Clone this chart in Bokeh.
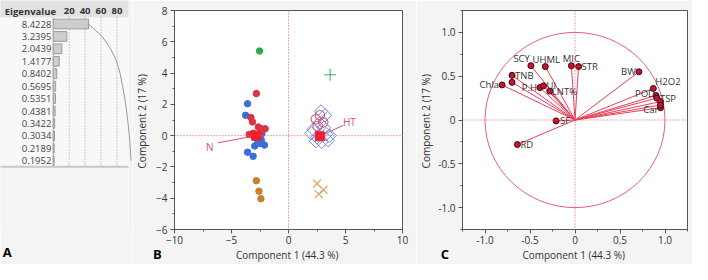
import numpy as np
from bokeh.plotting import figure
from bokeh.layouts import row
from bokeh.models import Range1d, FixedTicker, Span
from bokeh.embed import file_html
from bokeh.resources import INLINE
from bokeh.core.properties import value

FONT = "Open Sans"
BG = "#f4f4f4"
TXT = "#333333"
REF = "#e0506a"
LVL = "annotation"

# ---------------- Panel A data ----------------
eigenvalues = [8.4228, 3.2395, 2.0439, 1.4177, 0.8402, 0.5695,
               0.5351, 0.4381, 0.3422, 0.3034, 0.2189, 0.1952]
eigen_labels = ["8.4228", "3.2395", "2.0439", "1.4177", "0.8402", "0.5695",
                "0.5351", "0.4381", "0.3422", "0.3034", "0.2189", "0.1952"]
n_variables = 19
percent_ticks = [20, 40, 60, 80]
percent_tick_labels = ["20", "40", "60", "80"]

# ---------------- Panel B data (scores) ----------------
n_red_x = [-2.82, -3.30, -3.16, -2.65, -2.05, -3.45, -3.10, -2.60, -3.00, -2.40]
n_red_y = [2.69, 1.16, 0.88, 0.55, 0.44, 0.08, 0.15, 0.05, -0.10, 0.30]
n_blue_x = [-3.59, -3.76, -2.39, -2.33, -2.39, -2.68, -2.11, -2.96, -3.59, -3.10, -2.50]
n_blue_y = [2.04, 1.30, 0.44, 0.14, -0.26, -0.40, -0.60, -0.66, -1.06, -1.32, -0.50]
n_green_x = [-2.54]
n_green_y = [5.41]
n_orange_x = [-2.82, -2.59, -2.42]
n_orange_y = [-2.88, -3.55, -4.03]
ht_diamond_x = [2.20, 2.50, 2.90, 3.30, 3.60, 2.70, 3.20, 2.00, 3.10, 2.40, 3.45, 2.85]
ht_diamond_y = [0.40, -0.10, -0.40, 0.10, 0.00, 0.80, 1.30, 0.15, 0.50, -0.35, -0.30, 1.55]
ht_circle_x = [2.40, 2.55, 3.05, 2.75]
ht_circle_y = [1.05, 0.62, 0.85, 1.30]
ht_plus_x = [3.65]
ht_plus_y = [3.89]
ht_cross_x = [2.50, 2.65, 3.08]
ht_cross_y = [-3.07, -3.73, -3.47]
centroid_names = ["N", "HT"]
centroid_x = [-2.82, 2.75]
centroid_y = [0.00, -0.04]

# ---------------- Panel C data (loadings) ----------------
load_names = ["SCY", "UHML", "MIC", "STR", "BW", "H2O2", "POD", "TSP", "Car",
              "Chla", "TNB", "P.H", "UI", "LNT%", "SF", "RD", "", "", ""]
load_x = [-0.49, -0.33, -0.04, 0.04, 0.71, 0.87, 0.90, 0.91, 0.95,
          -0.81, -0.70, -0.39, -0.35, -0.28, -0.21, -0.64, -0.70, 0.95, 0.95]
load_y = [0.62, 0.61, 0.62, 0.61, 0.55, 0.36, 0.28, 0.25, 0.14,
          0.40, 0.51, 0.37, 0.39, 0.33, -0.01, -0.28, 0.43, 0.21, 0.17]

# label placement (align, x offset px, y offset px)
label_place = {
    "SCY": ("right", -1, -7), "UHML": ("center", 1, -7), "MIC": ("center", 0, -7),
    "STR": ("left", 3, 0), "BW": ("right", -3, 0), "H2O2": ("left", 2, -7),
    "POD": ("right", -1, -2), "TSP": ("left", 3, 0), "Car": ("right", -2, 2),
    "Chla": ("right", -3, 0), "TNB": ("left", 3, 0), "P.H": ("right", -3, 0),
    "UI": ("left", 3, 0), "LNT%": ("left", 2, 0), "SF": ("left", 4, 0),
    "RD": ("left", 3, 0),
}

H = 264
TOP, BOTTOM = 10, 34

# ======================= Panel A =======================
pA = figure(width=132, height=H, x_range=Range1d(-66.26, 94.48),
            y_range=Range1d(17.523, -0.086),
            x_axis_location=None, y_axis_location=None,
            toolbar_location=None, output_backend="svg",
            min_border_left=0, min_border_right=4, min_border_top=TOP, min_border_bottom=BOTTOM,
            outline_line_color=None, background_fill_color=BG, border_fill_color=BG)
pA.grid.visible = False
rows_y = np.arange(1, len(eigenvalues) + 1)
pct = np.array(eigenvalues) / n_variables * 100
cum = np.cumsum(pct)
head_top = -0.887
head_bottom = 0.47
body_bottom = 12.47
rA = []
rA.append(pA.quad(left=-66.26, right=94.48, top=head_top, bottom=head_bottom,
                  fill_color="#e2e2e2", line_color=None))
rA.append(pA.quad(left=-66.26, right=94.48, top=head_bottom, bottom=body_bottom,
                  fill_color="#f8f8f8", line_color=None))
rA.append(pA.segment(x0=percent_ticks, x1=percent_ticks, y0=head_bottom, y1=body_bottom,
                     line_color="#9a9a9a", line_dash="1 2", line_width=1))
rA.append(pA.hbar(y=rows_y, left=0, right=pct, height=0.78,
                  fill_color="#cdcdcd", line_color="#9a9a9a", line_width=1))
rA.append(pA.segment(x0=[0], x1=[0], y0=[head_bottom], y1=[body_bottom], line_color="#a8a8a8"))
rA.append(pA.segment(x0=[-66.26], x1=[94.48], y0=[body_bottom], y1=[body_bottom],
                     line_color="#c8c8c8", line_width=2))
rA.append(pA.line(cum, rows_y, line_color="#999999", line_width=1))
rA.append(pA.text(x=[-2.4] * len(eigen_labels), y=rows_y, text=eigen_labels,
                  text_align="right", text_baseline="middle", text_font=value(FONT),
                  text_font_size="9.5px", text_color="#444444"))
rA.append(pA.text(x=[-61.0], y=[-0.02], text=["Eigenvalue"], text_align="left",
                  text_baseline="middle", text_font=value(FONT), text_font_size="9.5px",
                  text_font_style="bold", text_color=TXT))
rA.append(pA.text(x=percent_ticks, y=[-0.02] * 4, text=percent_tick_labels,
                  text_align="center", text_baseline="middle", text_font=value(FONT),
                  text_font_size="9.5px", text_font_style="bold", text_color=TXT))
rA.append(pA.text(x=[-57.7], y=[19.34], text=["A"], text_align="center",
                  text_baseline="middle", text_font=value(FONT), text_font_size="13px",
                  text_font_style="bold", text_color="black"))
for r in rA:
    r.level = LVL


def style_axes(p, ylab_standoff, ylabel_standoff):
    for ax in (p.xaxis[0], p.yaxis[0]):
        ax.axis_line_color = "#555555"
        ax.major_tick_line_color = "#555555"
        ax.minor_tick_line_color = "#555555"
        ax.major_tick_in = 0
        ax.major_tick_out = 4
        ax.minor_tick_in = 0
        ax.minor_tick_out = 2
        ax.major_label_text_font = FONT
        ax.major_label_text_font_size = "10px"
        ax.major_label_text_color = TXT
        ax.axis_label_text_font = FONT
        ax.axis_label_text_font_size = "10px"
        ax.axis_label_text_font_style = "normal"
        ax.axis_label_text_color = TXT
    p.xaxis[0].major_label_standoff = 2
    p.xaxis[0].axis_label_standoff = 1
    p.yaxis[0].major_label_standoff = ylab_standoff
    p.yaxis[0].axis_label_standoff = ylabel_standoff
    p.outline_line_color = "#555555"
    p.grid.visible = False
    p.add_layout(Span(location=0, dimension="width", line_color=REF,
                      line_dash="1 2", line_width=1))
    p.add_layout(Span(location=0, dimension="height", line_color=REF,
                      line_dash="1 2", line_width=1))


# ======================= Panel B =======================
pB = figure(width=284, height=H, x_range=Range1d(-10, 10), y_range=Range1d(-6, 8),
            toolbar_location=None, output_backend="svg",
            min_border_left=42, min_border_right=14, min_border_top=TOP, min_border_bottom=BOTTOM,
            background_fill_color="white", border_fill_color=BG,
            x_axis_label="Component 1  (44.3 %)", y_axis_label="Component 2  (17 %)")
pB.xaxis.ticker = FixedTicker(ticks=[-10, -5, 0, 5, 10], minor_ticks=[-7.5, -2.5, 2.5, 7.5])
pB.yaxis.ticker = FixedTicker(ticks=[-6, -4, -2, 0, 2, 4, 6, 8],
                              minor_ticks=[-5, -3, -1, 1, 3, 5, 7])
style_axes(pB, 3, 4)

pB.scatter(n_blue_x, n_blue_y, size=6.5, fill_color="#3a6fd8", line_color="#3a6fd8")
pB.scatter(n_red_x, n_red_y, size=6.5, fill_color="#dc3444", line_color="#dc3444")
pB.scatter(n_green_x, n_green_y, size=6.5, fill_color="#2ea84a", line_color="#2ea84a")
pB.scatter(n_orange_x, n_orange_y, size=6.5, fill_color="#c8822a", line_color="#c8822a")
pB.scatter(ht_diamond_x, ht_diamond_y, marker="square", angle=np.pi / 4, size=9.5,
           fill_color=None, line_color="#6a8ee0", line_width=1)
pB.scatter(ht_circle_x, ht_circle_y, size=9.5, fill_color=None,
           line_color="#d05c7a", line_width=1.1)
pB.scatter(ht_plus_x, ht_plus_y, marker="cross", size=12, line_color="#3aaa55", line_width=1)
pB.scatter(ht_cross_x, ht_cross_y, marker="x", size=11, line_color="#d9a566", line_width=1.2)
pB.segment(x0=[-6.2, 4.8], y0=[-0.46, 0.66], x1=centroid_x, y1=centroid_y,
           line_color=REF, line_width=1)
pB.scatter(centroid_x, centroid_y, marker="square", size=9,
           fill_color="#f01c30", line_color="#f01c30")
pB.text(x=[-6.9], y=[-0.74], text=[centroid_names[0]], text_align="center",
        text_baseline="middle", text_font=value(FONT), text_font_size="10px",
        text_color=REF)
pB.text(x=[4.78], y=[0.88], text=[centroid_names[1]], text_align="left",
        text_baseline="middle", text_font=value(FONT), text_font_size="10px",
        text_color=REF)
lb = pB.text(x=[-11.5], y=[-7.54], text=["B"], text_align="center", text_baseline="middle",
             text_font=value(FONT), text_font_size="13px", text_font_style="bold",
             text_color="black")
lb.level = LVL

# ======================= Panel C =======================
pC = figure(width=276, height=H, x_range=Range1d(-1.25, 1.25), y_range=Range1d(-1.25, 1.25),
            toolbar_location=None, output_backend="svg",
            min_border_left=43, min_border_right=5, min_border_top=TOP, min_border_bottom=BOTTOM,
            background_fill_color="white", border_fill_color=BG,
            x_axis_label="Component 1  (44.3 %)", y_axis_label="Component 2  (17 %)")
ticksC = [-1.0, -0.5, 0, 0.5, 1.0]
minorC = [-1.25, -0.75, -0.25, 0.25, 0.75, 1.25]
overrides = {-1.0: "-1.0", -0.5: "-0.5", 0: "0", 0.5: "0.5", 1.0: "1.0"}
for ax in (pC.xaxis[0], pC.yaxis[0]):
    ax.ticker = FixedTicker(ticks=ticksC, minor_ticks=minorC)
    ax.major_label_overrides = overrides
style_axes(pC, 3, 2)

pC.ellipse(x=[0], y=[0], width=2, height=2, fill_color=None, line_color="#e0607a",
           line_width=1)
pC.segment(x0=[0] * len(load_x), y0=[0] * len(load_y), x1=load_x, y1=load_y,
           line_color="#e8405a", line_width=1)
pC.scatter(load_x, load_y, size=6, fill_color="#c81030", line_color="#3a0a10", line_width=1)
for name, lx, ly in zip(load_names, load_x, load_y):
    if not name:
        continue
    al, dx, dy = label_place[name]
    pC.text(x=[lx], y=[ly], text=[name], text_align=al, text_baseline="middle",
            x_offset=dx, y_offset=dy, text_font=value(FONT), text_font_size="9.5px",
            text_color=TXT)
lc = pC.text(x=[-1.446], y=[-1.525], text=["C"], text_align="center", text_baseline="middle",
             text_font=value(FONT), text_font_size="13px", text_font_style="bold",
             text_color="black")
lc.level = LVL

layout = row(pA, pB, pC)
open("out.html", "w").write(file_html(layout, INLINE))
